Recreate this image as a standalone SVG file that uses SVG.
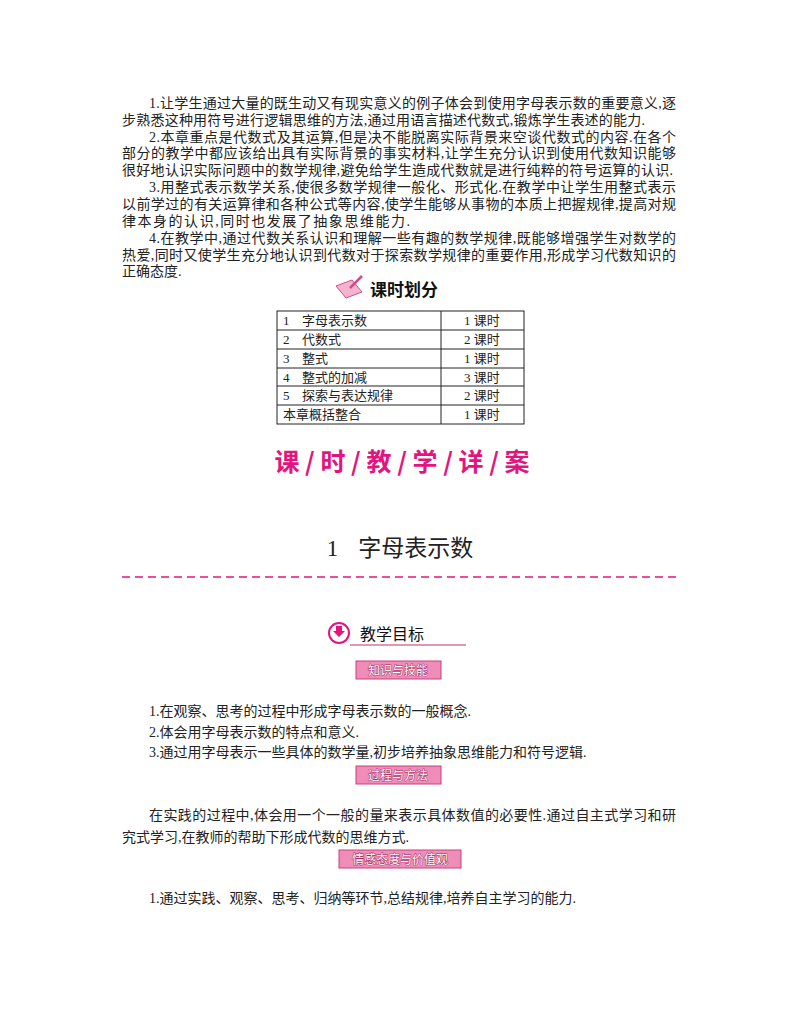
<svg xmlns="http://www.w3.org/2000/svg" width="800" height="1028" viewBox="0 0 800 1028">
<style>
.t{font-family:"Liberation Serif","Noto Sans CJK SC",serif;font-size:14px;fill:#222}
.c{font-family:"Liberation Serif","Noto Sans CJK SC",serif;font-size:13px;fill:#222}
.tag{fill:#f08cb8;stroke:#c8407c;stroke-width:1}
.tg{font-family:"Noto Sans CJK SC",sans-serif;font-size:12px;fill:#fff;stroke:#a02a5e;stroke-width:0.9;paint-order:stroke;text-anchor:middle}
.cell{fill:none;stroke:#222;stroke-width:1}
</style>
<rect width="800" height="1028" fill="#fff"/>
<g id="intro">
<text class="t" x="149" y="108" textLength="527" lengthAdjust="spacing">1.让学生通过大量的既生动又有现实意义的例子体会到使用字母表示数的重要意义,逐</text>
<text class="t" x="122" y="125" textLength="523" lengthAdjust="spacing">步熟悉这种用符号进行逻辑思维的方法,通过用语言描述代数式,锻炼学生表述的能力.</text>
<text class="t" x="149" y="142" textLength="527" lengthAdjust="spacing">2.本章重点是代数式及其运算,但是决不能脱离实际背景来空谈代数式的内容.在各个</text>
<text class="t" x="122" y="158" textLength="554" lengthAdjust="spacing">部分的教学中都应该给出具有实际背景的事实材料,让学生充分认识到使用代数知识能够</text>
<text class="t" x="122" y="175" textLength="551" lengthAdjust="spacing">很好地认识实际问题中的数学规律,避免给学生造成代数就是进行纯粹的符号运算的认识.</text>
<text class="t" x="149" y="192" textLength="527" lengthAdjust="spacing">3.用整式表示数学关系,使很多数学规律一般化、形式化.在教学中让学生用整式表示</text>
<text class="t" x="122" y="209" textLength="554" lengthAdjust="spacing">以前学过的有关运算律和各种公式等内容,使学生能够从事物的本质上把握规律,提高对规</text>
<text class="t" x="122" y="226" textLength="288" lengthAdjust="spacing">律本身的认识,同时也发展了抽象思维能力.</text>
<text class="t" x="149" y="243" textLength="527" lengthAdjust="spacing">4.在教学中,通过代数关系认识和理解一些有趣的数学规律,既能够增强学生对数学的</text>
<text class="t" x="122" y="260" textLength="554" lengthAdjust="spacing">热爱,同时又使学生充分地认识到代数对于探索数学规律的重要作用,形成学习代数知识的</text>
<text class="t" x="122" y="276">正确态度.</text>
</g>
<g id="schedule-heading">
<path d="M336 286 L352 280 L362 292 L346 298 Z" fill="#f6b3d0" stroke="#d24c88"/>
<path d="M350 288 L362 276" stroke="#d24c88" stroke-width="2.5"/>
<text x="370" y="296" font-family="Noto Sans CJK SC,sans-serif" font-size="17" font-weight="bold" fill="#111">课时划分</text>
</g>
<g id="schedule-table">
<rect class="cell" x="277" y="311" width="247" height="113"/>
<line class="cell" x1="441" y1="311" x2="441" y2="424"/>
<line class="cell" x1="277" y1="330" x2="524" y2="330"/>
<line class="cell" x1="277" y1="349" x2="524" y2="349"/>
<line class="cell" x1="277" y1="368" x2="524" y2="368"/>
<line class="cell" x1="277" y1="386" x2="524" y2="386"/>
<line class="cell" x1="277" y1="405" x2="524" y2="405"/>
<text class="c" x="283" y="325">1<tspan x="302">字母表示数</tspan></text>
<text class="c" x="283" y="344">2<tspan x="302">代数式</tspan></text>
<text class="c" x="283" y="363">3<tspan x="302">整式</tspan></text>
<text class="c" x="283" y="382">4<tspan x="302">整式的加减</tspan></text>
<text class="c" x="283" y="400">5<tspan x="302">探索与表达规律</tspan></text>
<text class="c" x="283" y="419">本章概括整合</text>
<g text-anchor="middle">
<text class="c" x="482" y="325">1 课时</text>
<text class="c" x="482" y="344">2 课时</text>
<text class="c" x="482" y="363">1 课时</text>
<text class="c" x="482" y="382">3 课时</text>
<text class="c" x="482" y="400">2 课时</text>
<text class="c" x="482" y="419">1 课时</text>
</g>
</g>
<text id="big-title" x="402" y="471" text-anchor="middle" font-family="Noto Sans CJK SC,sans-serif" font-size="25" font-weight="bold" fill="#e4147f">课 / 时 / 教 / 学 / 详 / 案</text>
<g id="section-title">
<text x="400" y="556" text-anchor="middle" font-family="Liberation Serif,Noto Sans CJK SC,serif" font-size="23" fill="#222">1<tspan dx="20">字母表示数</tspan></text>
<line x1="122" y1="577" x2="677" y2="577" stroke="#e4147f" stroke-width="1.5" stroke-dasharray="8,5"/>
</g>
<g id="goals-heading">
<circle cx="339" cy="633" r="10" fill="#fff" stroke="#e4147f" stroke-width="2"/>
<path d="M336 626 h6 v5 h3 l-6 6 l-6 -6 h3 Z" fill="#e4147f"/>
<text x="360" y="640" font-family="Noto Sans CJK SC,sans-serif" font-size="16" fill="#111">教学目标</text>
<line x1="350" y1="645" x2="466" y2="645" stroke="#c0306a" stroke-width="1"/>
</g>
<g id="tag1"><rect class="tag" x="356" y="661" width="85" height="18"/><text class="tg" x="398" y="675">知识与技能</text></g>
<g id="list1">
<text class="t" x="149" y="716">1.在观察、思考的过程中形成字母表示数的一般概念.</text>
<text class="t" x="149" y="737">2.体会用字母表示数的特点和意义.</text>
<text class="t" x="149" y="757">3.通过用字母表示一些具体的数学量,初步培养抽象思维能力和符号逻辑.</text>
</g>
<g id="tag2"><rect class="tag" x="356" y="766" width="85" height="18"/><text class="tg" x="398" y="780">过程与方法</text></g>
<g id="para2">
<text class="t" x="149" y="820" textLength="527" lengthAdjust="spacing">在实践的过程中,体会用一个一般的量来表示具体数值的必要性.通过自主式学习和研</text>
<text class="t" x="122" y="842">究式学习,在教师的帮助下形成代数的思维方式.</text>
</g>
<g id="tag3"><rect class="tag" x="339" y="850" width="122" height="18"/><text class="tg" x="400" y="864">情感态度与价值观</text></g>
<text class="t" x="149" y="903">1.通过实践、观察、思考、归纳等环节,总结规律,培养自主学习的能力.</text>
</svg>
